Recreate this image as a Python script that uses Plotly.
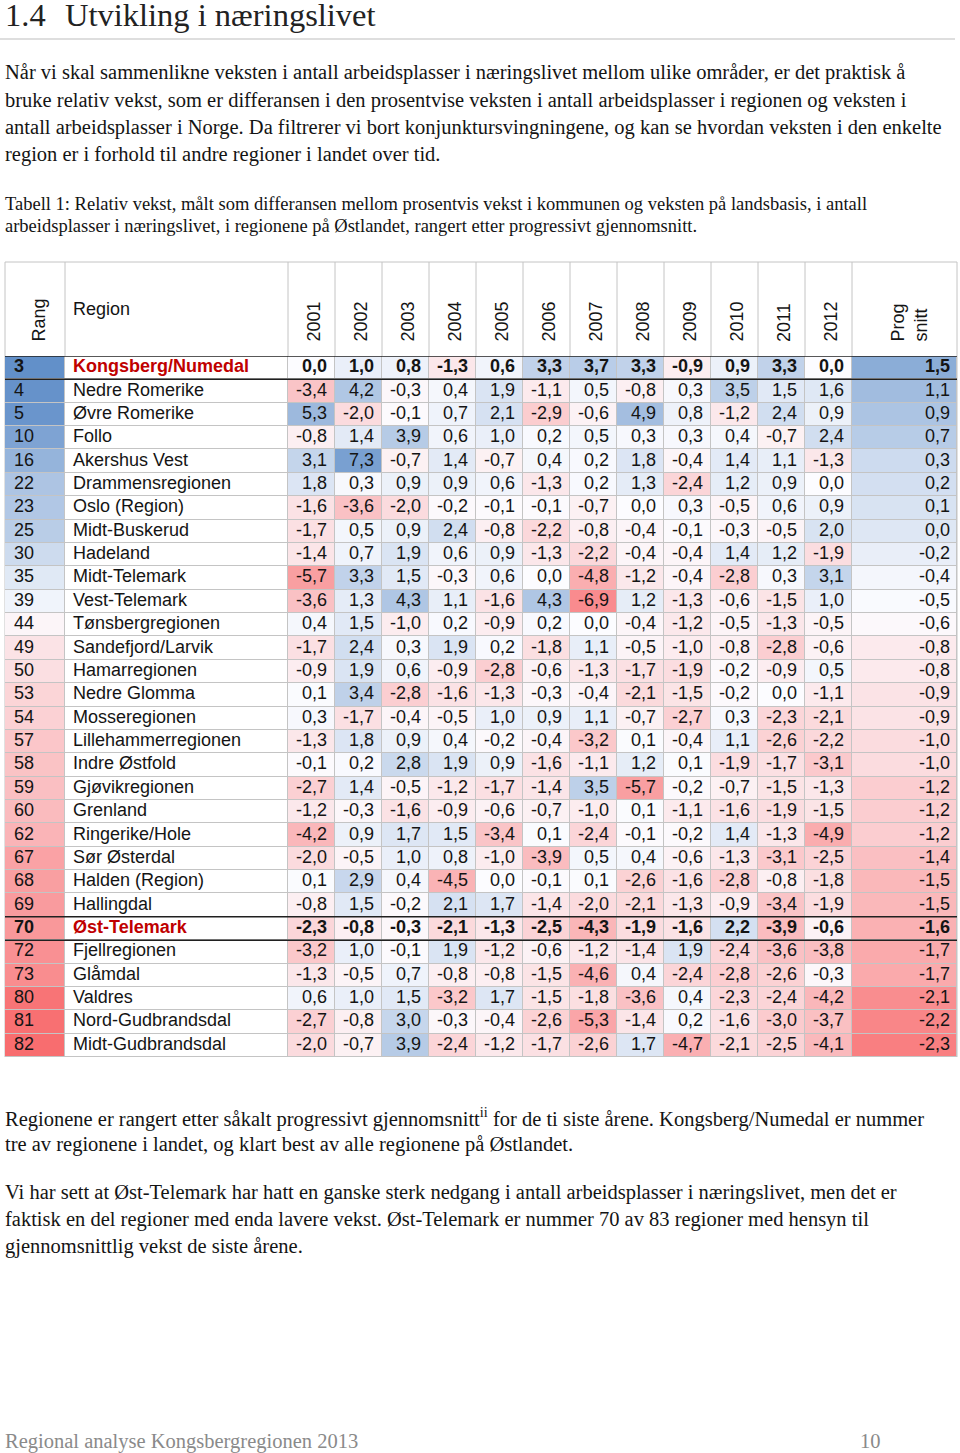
import plotly.graph_objects as go

# ---------------- data ----------------
ranks = [3, 4, 5, 10, 16, 22, 23, 25, 30, 35, 39, 44, 49, 50, 53, 54, 57, 58, 59, 60,
         62, 67, 68, 69, 70, 72, 73, 80, 81, 82]
regions = ["Kongsberg/Numedal", "Nedre Romerike", "Øvre Romerike", "Follo", "Akershus Vest",
           "Drammensregionen", "Oslo (Region)", "Midt-Buskerud", "Hadeland", "Midt-Telemark",
           "Vest-Telemark", "Tønsbergregionen", "Sandefjord/Larvik", "Hamarregionen",
           "Nedre Glomma", "Mosseregionen", "Lillehammerregionen", "Indre Østfold",
           "Gjøvikregionen", "Grenland", "Ringerike/Hole", "Sør Østerdal", "Halden (Region)",
           "Hallingdal", "Øst-Telemark", "Fjellregionen", "Glåmdal", "Valdres",
           "Nord-Gudbrandsdal", "Midt-Gudbrandsdal"]
years = ["2001", "2002", "2003", "2004", "2005", "2006", "2007", "2008", "2009", "2010",
         "2011", "2012"]
growth = [
    [0.0, 1.0, 0.8, -1.3, 0.6, 3.3, 3.7, 3.3, -0.9, 0.9, 3.3, 0.0],
    [-3.4, 4.2, -0.3, 0.4, 1.9, -1.1, 0.5, -0.8, 0.3, 3.5, 1.5, 1.6],
    [5.3, -2.0, -0.1, 0.7, 2.1, -2.9, -0.6, 4.9, 0.8, -1.2, 2.4, 0.9],
    [-0.8, 1.4, 3.9, 0.6, 1.0, 0.2, 0.5, 0.3, 0.3, 0.4, -0.7, 2.4],
    [3.1, 7.3, -0.7, 1.4, -0.7, 0.4, 0.2, 1.8, -0.4, 1.4, 1.1, -1.3],
    [1.8, 0.3, 0.9, 0.9, 0.6, -1.3, 0.2, 1.3, -2.4, 1.2, 0.9, 0.0],
    [-1.6, -3.6, -2.0, -0.2, -0.1, -0.1, -0.7, 0.0, 0.3, -0.5, 0.6, 0.9],
    [-1.7, 0.5, 0.9, 2.4, -0.8, -2.2, -0.8, -0.4, -0.1, -0.3, -0.5, 2.0],
    [-1.4, 0.7, 1.9, 0.6, 0.9, -1.3, -2.2, -0.4, -0.4, 1.4, 1.2, -1.9],
    [-5.7, 3.3, 1.5, -0.3, 0.6, 0.0, -4.8, -1.2, -0.4, -2.8, 0.3, 3.1],
    [-3.6, 1.3, 4.3, 1.1, -1.6, 4.3, -6.9, 1.2, -1.3, -0.6, -1.5, 1.0],
    [0.4, 1.5, -1.0, 0.2, -0.9, 0.2, 0.0, -0.4, -1.2, -0.5, -1.3, -0.5],
    [-1.7, 2.4, 0.3, 1.9, 0.2, -1.8, 1.1, -0.5, -1.0, -0.8, -2.8, -0.6],
    [-0.9, 1.9, 0.6, -0.9, -2.8, -0.6, -1.3, -1.7, -1.9, -0.2, -0.9, 0.5],
    [0.1, 3.4, -2.8, -1.6, -1.3, -0.3, -0.4, -2.1, -1.5, -0.2, 0.0, -1.1],
    [0.3, -1.7, -0.4, -0.5, 1.0, 0.9, 1.1, -0.7, -2.7, 0.3, -2.3, -2.1],
    [-1.3, 1.8, 0.9, 0.4, -0.2, -0.4, -3.2, 0.1, -0.4, 1.1, -2.6, -2.2],
    [-0.1, 0.2, 2.8, 1.9, 0.9, -1.6, -1.1, 1.2, 0.1, -1.9, -1.7, -3.1],
    [-2.7, 1.4, -0.5, -1.2, -1.7, -1.4, 3.5, -5.7, -0.2, -0.7, -1.5, -1.3],
    [-1.2, -0.3, -1.6, -0.9, -0.6, -0.7, -1.0, 0.1, -1.1, -1.6, -1.9, -1.5],
    [-4.2, 0.9, 1.7, 1.5, -3.4, 0.1, -2.4, -0.1, -0.2, 1.4, -1.3, -4.9],
    [-2.0, -0.5, 1.0, 0.8, -1.0, -3.9, 0.5, 0.4, -0.6, -1.3, -3.1, -2.5],
    [0.1, 2.9, 0.4, -4.5, 0.0, -0.1, 0.1, -2.6, -1.6, -2.8, -0.8, -1.8],
    [-0.8, 1.5, -0.2, 2.1, 1.7, -1.4, -2.0, -2.1, -1.3, -0.9, -3.4, -1.9],
    [-2.3, -0.8, -0.3, -2.1, -1.3, -2.5, -4.3, -1.9, -1.6, 2.2, -3.9, -0.6],
    [-3.2, 1.0, -0.1, 1.9, -1.2, -0.6, -1.2, -1.4, 1.9, -2.4, -3.6, -3.8],
    [-1.3, -0.5, 0.7, -0.8, -0.8, -1.5, -4.6, 0.4, -2.4, -2.8, -2.6, -0.3],
    [0.6, 1.0, 1.5, -3.2, 1.7, -1.5, -1.8, -3.6, 0.4, -2.3, -2.4, -4.2],
    [-2.7, -0.8, 3.0, -0.3, -0.4, -2.6, -5.3, -1.4, 0.2, -1.6, -3.0, -3.7],
    [-2.0, -0.7, 3.9, -2.4, -1.2, -1.7, -2.6, 1.7, -4.7, -2.1, -2.5, -4.1],
]
prog = [1.5, 1.1, 0.9, 0.7, 0.3, 0.2, 0.1, 0.0, -0.2, -0.4, -0.5, -0.6, -0.8, -0.8, -0.9,
        -0.9, -1.0, -1.0, -1.2, -1.2, -1.2, -1.4, -1.5, -1.5, -1.6, -1.7, -1.7, -2.1, -2.2,
        -2.3]
highlight = ["Kongsberg/Numedal", "Øst-Telemark"]

title_num = "1.4"
title_text = "Utvikling i næringslivet"
intro_lines = [
    "Når vi skal sammenlikne veksten i antall arbeidsplasser i næringslivet mellom ulike områder, er det praktisk å",
    "bruke relativ vekst, som er differansen i den prosentvise veksten i antall arbeidsplasser i regionen og veksten i",
    "antall arbeidsplasser i Norge. Da filtrerer vi bort konjunktursvingningene, og kan se hvordan veksten i den enkelte",
    "region er i forhold til andre regioner i landet over tid.",
]
caption_lines = [
    "Tabell 1: Relativ vekst, målt som differansen mellom prosentvis vekst i kommunen og veksten på landsbasis, i antall",
    "arbeidsplasser i næringslivet, i regionene på Østlandet, rangert etter progressivt gjennomsnitt.",
]
after_lines_1 = [
    "Regionene er rangert etter såkalt progressivt gjennomsnitt<sup>ii</sup> for de ti siste årene. Kongsberg/Numedal er nummer",
    "tre av regionene i landet, og klart best av alle regionene på Østlandet.",
]
after_lines_2 = [
    "Vi har sett at Øst-Telemark har hatt en ganske sterk nedgang i antall arbeidsplasser i næringslivet, men det er",
    "faktisk en del regioner med enda lavere vekst. Øst-Telemark er nummer 70 av 83 regioner med hensyn til",
    "gjennomsnittlig vekst de siste årene.",
]
footer_left = "Regional analyse Kongsbergregionen 2013"
footer_page = "10"

# ---------------- layout constants ----------------
W, H = 960, 1453
LEFT = 5
COL_W = [60, 223] + [47] * len(years) + [105]
edges = [LEFT]
for w in COL_W:
    edges.append(edges[-1] + w)
RIGHT = edges[-1]
HEAD_TOP, ROWS_TOP, ROWS_BOTTOM = 262, 356, 1057
GRID = "#c4c4c4"
BLUE, WHITE, RED = "#5A8AC6", "#FCFCFF", "#F8696B"
SANS = "Liberation Sans, Arial, sans-serif"
SERIF = "Liberation Serif, Times New Roman, serif"
TXT = "#141414"
HL = "#C00000"


def py(p):
    return 1 - p / H


def fmt(v):
    return f"{v:.1f}".replace(".", ",")


n = len(regions)
rows = list(range(n))
is_hl = [r in highlight for r in regions]

fig = go.Figure()

common = dict(xgap=1, ygap=1, showscale=False, hoverinfo="skip")

# Rang column
fig.add_trace(go.Heatmap(z=[[r] for r in ranks], x=edges[0:2], y=rows,
                         colorscale=[[0, BLUE], [0.5, WHITE], [1, RED]], zmin=1, zmax=83,
                         **common))
# Region column (white)
fig.add_trace(go.Heatmap(z=[[0] for _ in regions], x=edges[1:3], y=rows,
                         colorscale=[[0, "#ffffff"], [1, "#ffffff"]], zmin=0, zmax=1,
                         **common))
# Year columns
fig.add_trace(go.Heatmap(z=growth, x=edges[2:3 + len(years)], y=rows,
                         colorscale=[[0, RED], [0.5, WHITE], [1, BLUE]], zmin=-9, zmax=9,
                         **common))
# Prog snitt column
pmin, pmax, pmid = -2.6, 2.4, -0.55
fig.add_trace(go.Heatmap(z=[[p] for p in prog], x=edges[-2:], y=rows,
                         colorscale=[[0, RED], [(pmid - pmin) / (pmax - pmin), WHITE], [1, BLUE]],
                         zmin=pmin, zmax=pmax, **common))


def bold(s, b):
    return f"<b>{s}</b>" if b else s


# Rang text
fig.add_trace(go.Scatter(x=[edges[0] + 9] * n, y=rows, mode="text",
                         text=[bold(r, h) for r, h in zip(ranks, is_hl)],
                         textposition="middle right", hoverinfo="skip",
                         textfont=dict(family=SANS, size=18, color=TXT), cliponaxis=False))
# Region text
fig.add_trace(go.Scatter(x=[edges[1] + 8] * n, y=rows, mode="text",
                         text=[bold(r, h) for r, h in zip(regions, is_hl)],
                         textposition="middle right", hoverinfo="skip",
                         textfont=dict(family=SANS, size=18, color=[HL if h else TXT for h in is_hl]),
                         cliponaxis=False))
# Year values
vx, vy, vt = [], [], []
for i, row in enumerate(growth):
    for j, v in enumerate(row):
        vx.append(edges[3 + j] - 8)
        vy.append(i)
        vt.append(bold(fmt(v), is_hl[i]))
fig.add_trace(go.Scatter(x=vx, y=vy, mode="text", text=vt, textposition="middle left",
                         hoverinfo="skip", textfont=dict(family=SANS, size=18, color=TXT),
                         cliponaxis=False))
# Prog values
fig.add_trace(go.Scatter(x=[RIGHT - 7] * n, y=rows, mode="text",
                         text=[bold(fmt(p), h) for p, h in zip(prog, is_hl)],
                         textposition="middle left", hoverinfo="skip",
                         textfont=dict(family=SANS, size=18, color=TXT), cliponaxis=False))

shapes = []
# grey backing for data grid
shapes.append(dict(type="rect", xref="x", yref="y", x0=LEFT - 0.5, x1=RIGHT + 0.5,
                   y0=-0.5, y1=n - 0.5, fillcolor=GRID, line=dict(width=0), layer="below"))
# header borders
shapes.append(dict(type="line", xref="x", yref="paper", x0=LEFT, x1=RIGHT,
                   y0=py(HEAD_TOP), y1=py(HEAD_TOP), line=dict(color=GRID, width=1)))
for e in edges:
    shapes.append(dict(type="line", xref="x", yref="paper", x0=e, x1=e,
                       y0=py(HEAD_TOP), y1=py(ROWS_TOP), line=dict(color=GRID, width=1)))
# dark lines around highlighted rows
for i, h in enumerate(is_hl):
    if h:
        for yy in (i - 0.5, i + 0.5):
            shapes.append(dict(type="line", xref="x", yref="y", x0=LEFT, x1=RIGHT,
                               y0=yy, y1=yy, line=dict(color="#202020", width=1.5)))
# title rule
shapes.append(dict(type="line", xref="paper", yref="paper", x0=0, x1=955 / W,
                   y0=py(39), y1=py(39), line=dict(color="#bdbdbd", width=1)))

ann = []
# header labels
hfont = dict(family=SANS, size=18, color=TXT)
ann.append(dict(text="Rang", x=(edges[0] + edges[1]) / 2 + 3, y=py(344), xref="x", yref="paper",
                textangle=-90, xanchor="center", yanchor="bottom", showarrow=False, font=hfont))
ann.append(dict(text="Region", x=edges[1] + 6, y=py(309), xref="x", yref="paper",
                xanchor="left", yanchor="middle", showarrow=False, font=hfont))
for j, yr in enumerate(years):
    ann.append(dict(text=yr, x=(edges[2 + j] + edges[3 + j]) / 2 + 2, y=py(344), xref="x",
                    yref="paper", textangle=-90, xanchor="center", yanchor="bottom",
                    showarrow=False, font=hfont))
ann.append(dict(text="Prog<br>snitt", x=(edges[-2] + edges[-1]) / 2 + 4, y=py(344), xref="x",
                yref="paper", textangle=-90, xanchor="center", yanchor="bottom", align="left",
                showarrow=False, font=hfont))


def line_ann(text, xpx, ypx, size, color=TXT, family=SERIF):
    return dict(text=text, x=xpx / W, y=py(ypx), xref="paper", yref="paper", xanchor="left",
                yanchor="middle", showarrow=False, font=dict(family=family, size=size, color=color))


ann.append(line_ann(title_num, 3, 15, 32.5, "#222"))
ann.append(line_ann(title_text, 63, 15, 32.5, "#222"))
for k, t in enumerate(intro_lines):
    ann.append(line_ann(t, 3, 73 + 27 * k, 20.5))
for k, t in enumerate(caption_lines):
    ann.append(line_ann(t, 3, 204 + 22 * k, 18.5))
for k, t in enumerate(after_lines_1):
    ann.append(line_ann(t, 3, 1117 + 27 * k, 20.5))
for k, t in enumerate(after_lines_2):
    ann.append(line_ann(t, 3, 1192 + 27 * k, 20.5))
ann.append(line_ann(footer_left, 3, 1441, 20.5, "#8a8a8a"))
ann.append(line_ann(footer_page, 858, 1441, 20.5, "#8a8a8a"))

fig.update_layout(
    width=W, height=H, margin=dict(l=0, r=0, t=0, b=0),
    paper_bgcolor="white", plot_bgcolor="white", showlegend=False,
    separators=",.",
    xaxis=dict(range=[0, W], domain=[0, 1], visible=False, fixedrange=True),
    yaxis=dict(range=[n - 0.5, -0.5], domain=[py(ROWS_BOTTOM), py(ROWS_TOP)], visible=False,
               fixedrange=True),
    shapes=shapes, annotations=ann,
)

fig.write_html("out.html",
               config={"displayModeBar": False, "staticPlot": True},
               post_script="document.body.style.margin='0px';"
                           "document.documentElement.style.overflow='hidden';")
